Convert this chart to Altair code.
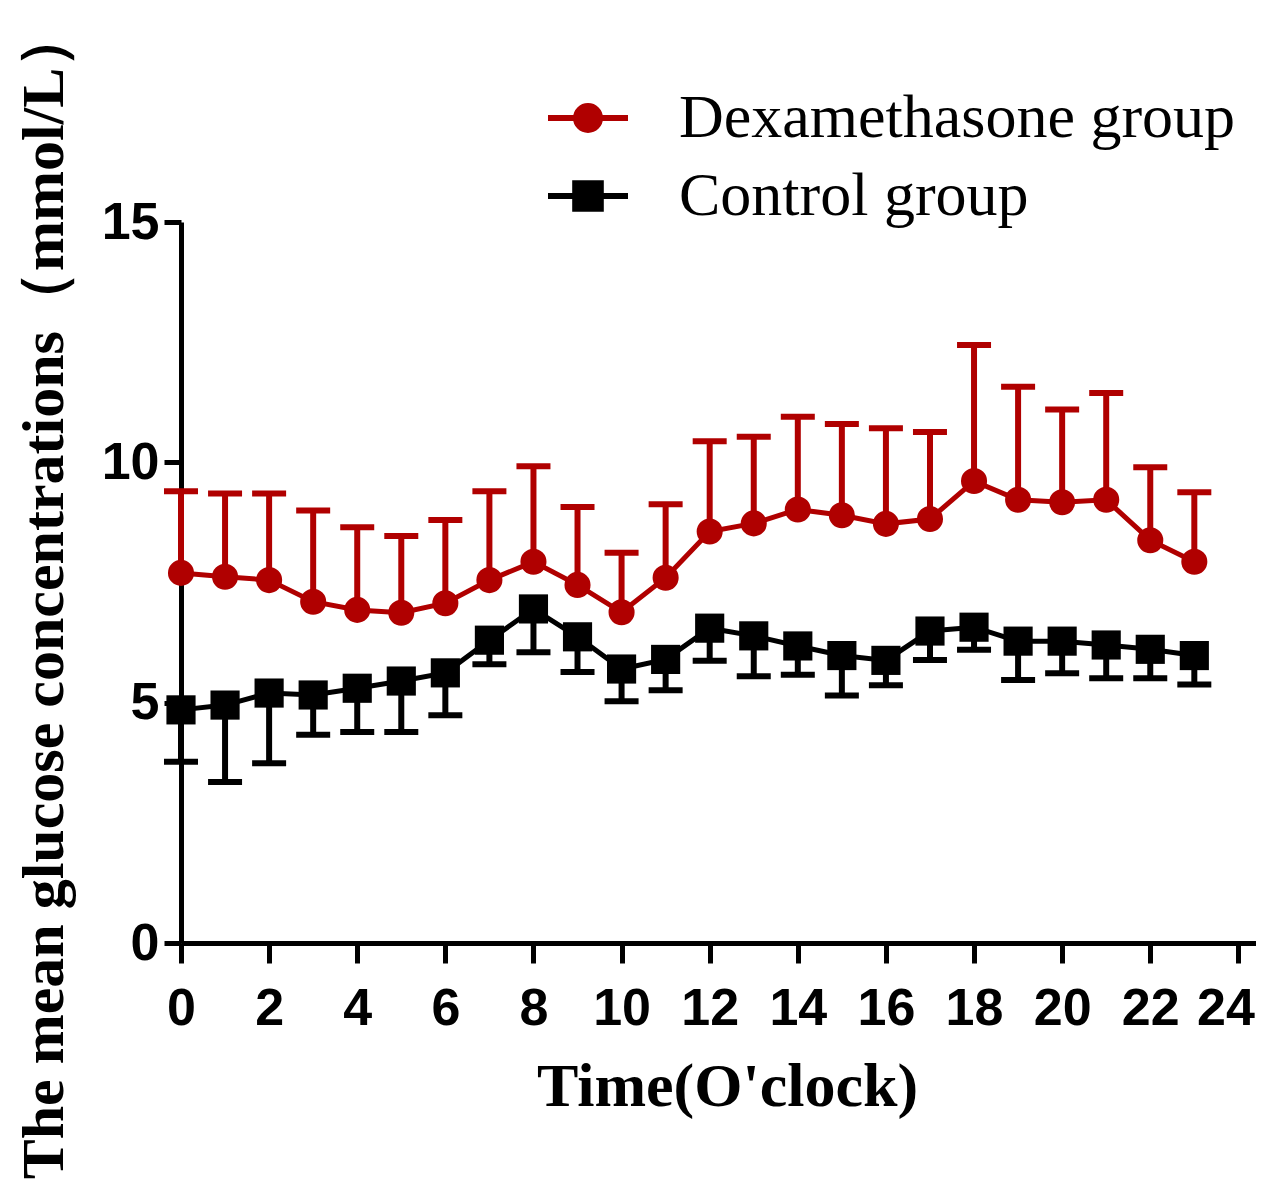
import altair as alt
import pandas as pd

# ---------------- data ----------------
hours = list(range(24))
groups = ["Dexamethasone group", "Control group"]

dex_mean = [7.70, 7.62, 7.55, 7.10, 6.93, 6.87, 7.07, 7.55, 7.93, 7.45, 6.88, 7.60,
            8.56, 8.73, 9.02, 8.90, 8.72, 8.82, 9.61, 9.22, 9.17, 9.22, 8.38, 7.93]
dex_sd = [1.70, 1.73, 1.80, 1.90, 1.72, 1.60, 1.73, 1.85, 1.99, 1.62, 1.24, 1.53,
          1.88, 1.80, 1.93, 1.90, 1.99, 1.81, 2.83, 2.35, 1.93, 2.22, 1.52, 1.45]

ctrl_mean = [4.85, 4.95, 5.20, 5.16, 5.30, 5.45, 5.62, 6.30, 6.95, 6.37, 5.70, 5.90,
             6.55, 6.39, 6.18, 5.98, 5.88, 6.49, 6.57, 6.28, 6.28, 6.20, 6.11, 5.98]
ctrl_sd = [1.08, 1.60, 1.46, 0.83, 0.91, 1.06, 0.88, 0.50, 0.90, 0.73, 0.67, 0.64,
           0.68, 0.84, 0.60, 0.83, 0.52, 0.60, 0.47, 0.81, 0.67, 0.69, 0.60, 0.60]

x_ticks = list(range(0, 25, 2))
y_ticks = [0, 5, 10, 15]

# ---------------- styles ----------------
colors = ["#B00000", "#000000"]
legend_shapes = [
    "M-1,0H1M0.3,0A0.3,0.3,0,1,1,-0.3,0A0.3,0.3,0,1,1,0.3,0Z",
    "M-1,0H1M-0.32,-0.32H0.32V0.32H-0.32Z",
]

rows = []
for h, m, s in zip(hours, dex_mean, dex_sd):
    rows.append({"hour": h, "group": groups[0], "mean": m, "end": m + s})
for h, m, s in zip(hours, ctrl_mean, ctrl_sd):
    rows.append({"hour": h, "group": groups[1], "mean": m, "end": m - s})
df = pd.DataFrame(rows)

W = 1075
H = 721

xscale = alt.Scale(domain=[0, 24.4], nice=False, zero=False)
yscale = alt.Scale(domain=[0, 15], nice=False, zero=False)

xaxis = alt.Axis(
    values=x_ticks, format="d", grid=False, labelFlush=False, labelOverlap=False,
    title="Time(O'clock)", titleFont="Liberation Serif", titleFontWeight="bold",
    titleFontSize=62, titleColor="black", titleX=546, titleY=162,
    titleAlign="center", titleBaseline="alphabetic",
    labelFont="Liberation Sans", labelFontWeight="bold",
    labelFontSize=52, labelColor="black", labelPadding=20,
    labelOffset={"condition": {"test": "datum.value == 24", "value": -13}, "value": 0},
    tickSize=20, tickWidth=5, tickColor="black",
    domainColor="black", domainWidth=5,
)
yaxis = alt.Axis(
    values=y_ticks, format="d", grid=False, labelFlush=False, labelOverlap=False,
    title="The mean glucose concentrations（mmol/L）", titleFont="Liberation Serif",
    titleFontWeight="bold", titleFontSize=60, titleColor="black",
    titleX=-119, titleY=371, titleAlign="center", titleBaseline="alphabetic",
    titleAngle=270,
    labelFont="Liberation Sans", labelFontWeight="bold", labelFontSize=52,
    labelColor="black", labelPadding=5,
    tickSize=17, tickWidth=5, tickColor="black",
    domainColor="black", domainWidth=5,
)


def X(field="hour"):
    return alt.X(f"{field}:Q", scale=xscale, axis=xaxis)


def Y(field):
    return alt.Y(f"{field}:Q", scale=yscale, axis=yaxis)


base = alt.Chart(df)
layers = []
for g, c in zip(groups, colors):
    sub = base.transform_filter(alt.datum.group == g)
    layers.append(sub.mark_line(color=c, strokeWidth=5).encode(x=X(), y=Y("mean")))
    layers.append(sub.mark_rule(color=c, strokeWidth=6).encode(x=X(), y=Y("mean"), y2="end:Q"))
    layers.append(
        sub.mark_rule(color=c, strokeWidth=6, xOffset=-17, x2Offset=17).encode(
            x=X(), x2="hour:Q", y=Y("end")
        )
    )

dex = base.transform_filter(alt.datum.group == groups[0])
ctrl = base.transform_filter(alt.datum.group == groups[1])
layers.append(dex.mark_point(shape="circle", filled=True, size=680, color=colors[0], opacity=1).encode(x=X(), y=Y("mean")))
layers.append(ctrl.mark_square(size=850, color=colors[1], opacity=1).encode(x=X(), y=Y("mean")))

leg = alt.Legend(
    title=None, orient="none", legendX=364, legendY=-147,
    labelFont="Liberation Serif", labelFontSize=62, labelColor="black",
    labelLimit=1000, labelOffset=48, symbolSize=6400, symbolStrokeWidth=6,
    rowPadding=4, padding=0,
)
legend_layer = base.transform_filter("false").mark_point(opacity=1, filled=True).encode(
    x=X(), y=Y("mean"),
    fill=alt.Fill("group:N", scale=alt.Scale(domain=groups, range=colors), legend=leg),
    stroke=alt.Stroke("group:N", scale=alt.Scale(domain=groups, range=colors), legend=leg),
    shape=alt.Shape("group:N", scale=alt.Scale(domain=groups, range=legend_shapes), legend=leg),
)
layers.append(legend_layer)

chart = alt.layer(*layers).properties(
    width=W, height=H,
    background="white",
    autosize=alt.AutoSizeParams(type="none"),
    padding={"left": 173, "top": 214, "right": 0, "bottom": 246},
).configure_view(stroke=None)

chart.save("out.html", embed_options={"renderer": "svg", "actions": False})
